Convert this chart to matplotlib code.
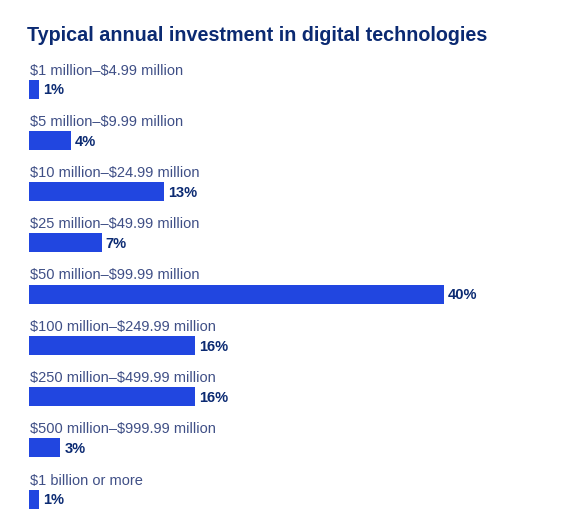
import matplotlib
matplotlib.use("Agg")
import matplotlib.pyplot as plt

categories = [
    "$1 million–$4.99 million",
    "$5 million–$9.99 million",
    "$10 million–$24.99 million",
    "$25 million–$49.99 million",
    "$50 million–$99.99 million",
    "$100 million–$249.99 million",
    "$250 million–$499.99 million",
    "$500 million–$999.99 million",
    "$1 billion or more",
]
values = [1, 4, 13, 7, 40, 16, 16, 3, 1]
value_labels = ["1%", "4%", "13%", "7%", "40%", "16%", "16%", "3%", "1%"]

title = "Typical annual investment in digital technologies"

BAR = "#2146e0"
NAVY = "#0b2a72"
CAT = "#3f4f86"

plt.rcParams['font.family'] = ['Liberation Sans', 'DejaVu Sans']
plt.rcParams['text.parse_math'] = False

W, H = 575, 525
fig = plt.figure(figsize=(W / 100, H / 100), dpi=100)
fig.patch.set_facecolor("white")

left_px, right_px = 29, 560
top_px, bot_px = 60, 515
ax = fig.add_axes([left_px / W, (H - bot_px) / H, (right_px - left_px) / W, (bot_px - top_px) / H])
px_per_unit = (444 - 29) / 40.0
ax.set_xlim(0, (right_px - left_px) / px_per_unit)
spacing = 51.25
ax.set_ylim((bot_px - 89) / spacing, (top_px - 89) / spacing)
ax.axis("off")

bh = 19 / spacing
ypos = list(range(len(categories)))
ax.barh(ypos, values, height=bh, color=BAR, left=0)

for y, cat, v, lab in zip(ypos, categories, values, value_labels):
    ax.annotate(cat, xy=(0, y - bh / 2), xytext=(1, 3.6), textcoords="offset points",
                ha="left", va="baseline", fontsize=10.5, color=CAT)
    ax.annotate(lab, xy=(v, y), xytext=(3, -1), textcoords="offset points",
                ha="left", va="center", fontsize=10.5, fontweight="bold", color=NAVY)

fig.text(27 / W, 1 - 41 / H, title, ha="left", va="baseline", fontsize=14.2,
         fontweight="bold", color=NAVY)

fig.savefig("out.png", dpi=100, facecolor="white")
